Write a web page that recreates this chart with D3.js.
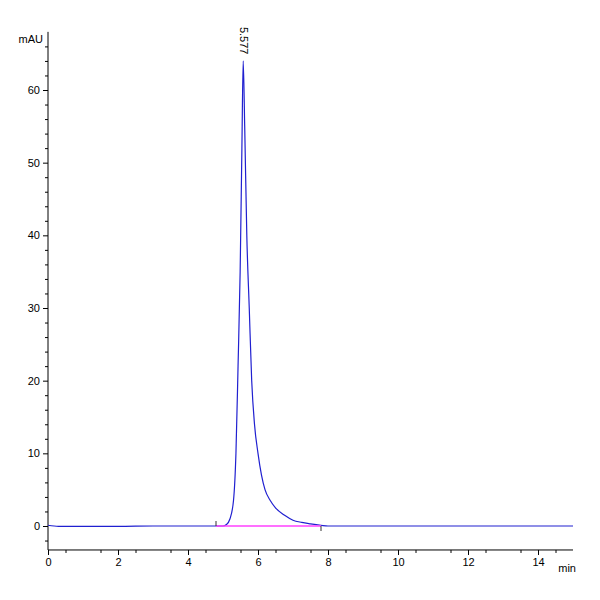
<!DOCTYPE html><html><head><script src="https://cdn.jsdelivr.net/npm/d3@7"></script>
<style>body{margin:0;background:#fff}text{font-family:"Liberation Sans",Arial,sans-serif;font-size:11px}</style></head><body><svg id="c" width="600" height="600"></svg>
<script>
const times=[0,0.3,1,2,3,4,4.8,5.0,5.1,5.2,5.3,5.37,5.43,5.49,5.54,5.577,5.62,5.68,5.75,5.82,5.9,6.0,6.1,6.2,6.35,6.5,6.75,7.0,7.25,7.5,7.8,8,9,10,11,12,13,14,15];
const signal=[0.1,-0.05,-0.05,-0.05,0,0,0,0,0.2,1,3.5,10,22,35,52,64,55,40,30,20,14,10,7,5,3.5,2.5,1.5,0.8,0.5,0.3,0.1,0,0,0,0,0,0,0,0];
const xTicks=[0,2,4,6,8,10,12,14];
const yTicks=[0,10,20,30,40,50,60];
const peakLabel={t:5.577,v:64,text:"5.577"};
const baseline=[[4.8,0],[7.8,0]];
const svg=d3.select("#c");
const x=d3.scaleLinear().domain([0,15]).range([48,573]);
const y=d3.scaleLinear().domain([0,60]).range([526,90]);
const yb=y(-3.3), yt=y(68);
svg.append("g").attr("transform",`translate(0,${yb})`).call(d3.axisBottom(x).tickValues(xTicks).tickFormat(d3.format("d")).tickSize(5).tickSizeOuter(0)).call(g=>g.select(".domain").attr("d",`M48,0H573`));
svg.append("g").attr("transform",`translate(0,${yb})`).call(d3.axisBottom(x).tickValues(d3.range(0.5,15,1)).tickFormat("").tickSize(3)).call(g=>g.select(".domain").remove());
svg.append("g").attr("transform","translate(48,0)").call(d3.axisLeft(y).tickValues(yTicks).tickSize(5).tickSizeOuter(0)).call(g=>g.select(".domain").attr("d",`M0,${yb}V${yt}`));
svg.append("g").attr("transform","translate(48,0)").call(d3.axisLeft(y).tickValues(d3.range(-2,68,2).filter(v=>v%10)).tickFormat("").tickSize(3)).call(g=>g.select(".domain").remove());
svg.selectAll(".tick text").attr("font-size",11).attr("fill","#000");
svg.append("text").attr("x",43).attr("y",yt+11).attr("text-anchor","end").text("mAU");
svg.append("text").attr("x",576).attr("y",yb+22).attr("text-anchor","end").text("min");
svg.append("path").datum(times.map((t,i)=>[t,signal[i]])).attr("fill","none").attr("stroke","#2020d0").attr("stroke-width",1.2)
 .attr("d",d3.line().curve(d3.curveMonotoneX).x(d=>x(d[0])).y(d=>y(d[1])));
svg.append("path").datum(baseline).attr("stroke","#ff40ff").attr("stroke-width",1.3).attr("d",d3.line().x(d=>x(d[0])).y(d=>y(d[1])));
svg.append("line").attr("x1",x(4.8)).attr("x2",x(4.8)).attr("y1",y(0)).attr("y2",y(0)-5).attr("stroke","#333");
svg.append("line").attr("x1",x(7.8)).attr("x2",x(7.8)).attr("y1",y(0)).attr("y2",y(0)+5).attr("stroke","#333");
svg.append("text").attr("transform",`translate(${x(peakLabel.t)-3},${y(peakLabel.v)-34})rotate(90)`).attr("font-size",11).text(peakLabel.text);
</script></body></html>
